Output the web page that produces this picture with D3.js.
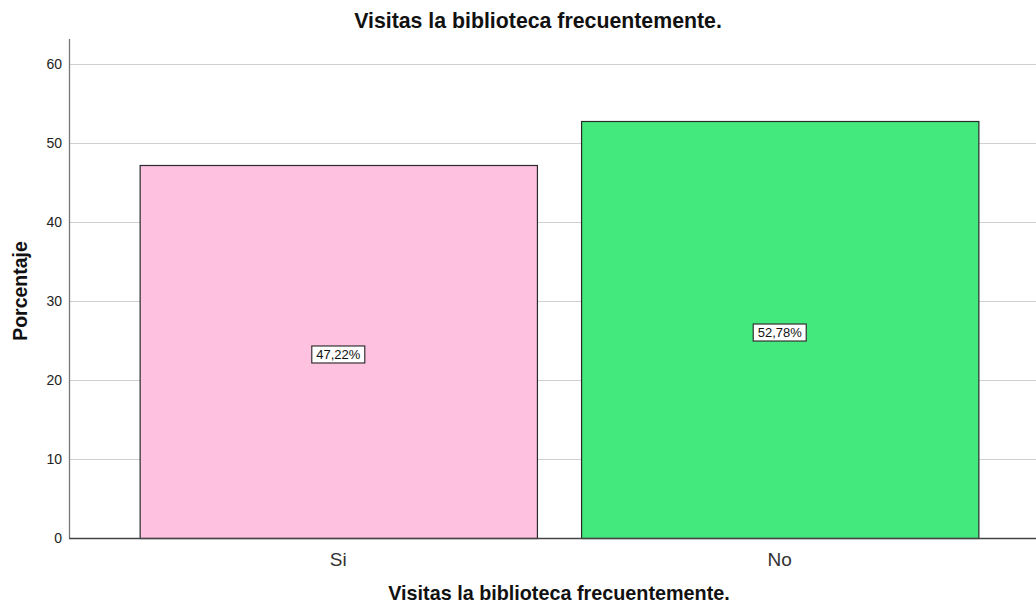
<!DOCTYPE html>
<html>
<head>
<meta charset="utf-8">
<script src="https://cdn.jsdelivr.net/npm/d3@7"></script>
<style>
  body { margin: 0; background: #fff; }
  text { font-family: "Liberation Sans", Arial, sans-serif; }
</style>
</head>
<body>
<script>
const categories = ["Si", "No"];
const values = [47.22, 52.78];
const labels = ["47,22%", "52,78%"];
const colors = ["#fec1e0", "#43e97d"];
const yTicks = [0, 10, 20, 30, 40, 50, 60];

const width = 1036;
const height = 608;
const plotLeft = 69;
const plotTop = 39;

const svg = d3.select("body")
  .append("svg")
  .attr("width", width)
  .attr("height", height);

// band range runs a bit past the right edge, as in the original
const x = d3.scaleBand()
  .domain(categories)
  .range([plotLeft, 1049])
  .paddingInner(0.1)
  .paddingOuter(0.16);

const y = d3.scaleLinear()
  .domain([0, 60])
  .range([538, 64]);

// gridlines
svg.append("g")
  .selectAll("line")
  .data(yTicks.filter(d => d > 0))
  .join("line")
  .attr("x1", plotLeft)
  .attr("x2", width)
  .attr("y1", d => Math.round(y(d)) + 0.5)
  .attr("y2", d => Math.round(y(d)) + 0.5)
  .attr("stroke", "#d0d0d0")
  .attr("stroke-width", 1.2);

// y tick labels
svg.append("g")
  .selectAll("text")
  .data(yTicks)
  .join("text")
  .attr("x", plotLeft - 7)
  .attr("y", d => y(d) + 5)
  .attr("text-anchor", "end")
  .style("font-size", "14px")
  .attr("fill", "#222")
  .text(d => d);

// bars
svg.append("g")
  .selectAll("rect")
  .data(values)
  .join("rect")
  .attr("x", (d, i) => x(categories[i]) + 0.5)
  .attr("y", d => Math.round(y(d)) + 0.5)
  .attr("width", x.bandwidth())
  .attr("height", d => y(0) - Math.round(y(d)))
  .attr("fill", (d, i) => colors[i])
  .attr("stroke", "#2a2a2a")
  .attr("stroke-width", 1.2);

// axis lines
svg.append("line")
  .attr("x1", plotLeft + 0.5).attr("x2", plotLeft + 0.5)
  .attr("y1", plotTop).attr("y2", y(0))
  .attr("stroke", "#777").attr("stroke-width", 1.3);
svg.append("line")
  .attr("x1", plotLeft).attr("x2", width)
  .attr("y1", y(0) + 0.5).attr("y2", y(0) + 0.5)
  .attr("stroke", "#444").attr("stroke-width", 1.3);

// value labels
const lab = svg.append("g")
  .selectAll("g")
  .data(values)
  .join("g")
  .attr("transform", (d, i) => `translate(${x(categories[i]) + x.bandwidth() / 2},${y(d / 2) + 3})`);

lab.append("rect")
  .attr("x", -26.5).attr("y", -8.5)
  .attr("width", 53).attr("height", 17)
  .attr("fill", "#fff")
  .attr("stroke", "#333")
  .attr("stroke-width", 1.2);

lab.append("text")
  .attr("text-anchor", "middle")
  .attr("y", 4.8)
  .style("font-size", "13px")
  .attr("fill", "#111")
  .text((d, i) => labels[i]);

// category labels
svg.append("g")
  .selectAll("text")
  .data(categories)
  .join("text")
  .attr("x", d => x(d) + x.bandwidth() / 2)
  .attr("y", 566)
  .attr("text-anchor", "middle")
  .style("font-size", "19px")
  .attr("fill", "#333")
  .text(d => d);

// titles
svg.append("text")
  .attr("x", 538).attr("y", 28)
  .attr("text-anchor", "middle")
  .style("font-size", "21.3px")
  .style("font-weight", "bold")
  .attr("fill", "#111")
  .text("Visitas la biblioteca frecuentemente.");

svg.append("text")
  .attr("x", 559).attr("y", 600)
  .attr("text-anchor", "middle")
  .style("font-size", "19.8px")
  .style("font-weight", "bold")
  .attr("fill", "#111")
  .text("Visitas la biblioteca frecuentemente.");

svg.append("text")
  .attr("transform", "translate(27,291) rotate(-90)")
  .attr("text-anchor", "middle")
  .style("font-size", "19.5px")
  .style("font-weight", "bold")
  .attr("fill", "#111")
  .text("Porcentaje");
</script>
</body>
</html>
